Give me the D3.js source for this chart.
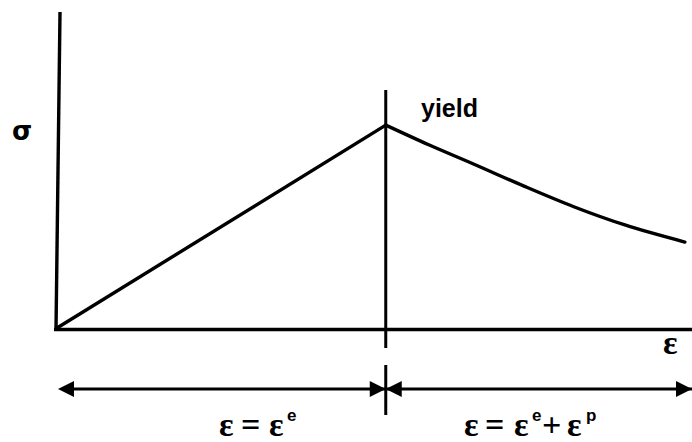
<!DOCTYPE html>
<html>
<head>
<meta charset="utf-8">
<script src="https://cdn.jsdelivr.net/npm/d3@7"></script>
<style>
  body { margin: 0; background: #fff; }
  text { fill: #000; }
</style>
</head>
<body>
<div id="chart"></div>
<script>
// strain (arbitrary units) and stress values
const strain = [0, 5.21, 5.9, 6.6, 7.4, 8.2, 9.0, 9.95]
const stress = [0, 6.42, 5.79, 5.19, 4.49, 3.83, 3.26, 2.72]
const yieldStrain = 5.21
const yieldLabel = "yield"
const axisLabels = {x: "ε", y: "σ"}

const W = 692, H = 442

const svg = d3.select("#chart")
    .append("svg")
    .attr("width", W)
    .attr("height", H)

const x = d3.scaleLinear().domain([0, 10]).range([57, 688])
const y = d3.scaleLinear().domain([0, 10]).range([328, 12])

// axes (the vertical one leans a little, like the hand drawing)
svg.append("line")
    .attr("x1", 60).attr("x2", 56)
    .attr("y1", y(10)).attr("y2", y(0) + 2)
    .attr("stroke", "#000").attr("stroke-width", 3.4)
svg.append("line")
    .attr("x1", x(0) - 3).attr("x2", W)
    .attr("y1", y(0) + 1.5).attr("y2", y(0) + 1.5)
    .attr("stroke", "#000").attr("stroke-width", 3.4)

// yield line
svg.append("line")
    .attr("x1", x(yieldStrain)).attr("x2", x(yieldStrain))
    .attr("y1", 90).attr("y2", 348)
    .attr("stroke", "#000").attr("stroke-width", 3)

// stress-strain curve: straight elastic part, then curved plastic part
const pts = strain.map((s, i) => [s, stress[i]])
const iy = strain.indexOf(yieldStrain)
svg.append("path")
    .attr("d", d3.line().x(d => x(d[0])).y(d => y(d[1]))(pts.slice(0, iy + 1)))
    .attr("fill", "none").attr("stroke", "#000").attr("stroke-width", 3.4)
svg.append("path")
    .attr("d", d3.line().curve(d3.curveMonotoneX).x(d => x(d[0])).y(d => y(d[1]))(pts.slice(iy)))
    .attr("fill", "none").attr("stroke", "#000").attr("stroke-width", 3.4)
    .attr("stroke-linecap", "round")

// labels
svg.append("text")
    .attr("x", 12).attr("y", 140)
    .style("font", "bold 26px 'DejaVu Sans'")
    .text(axisLabels.y)
svg.append("text")
    .attr("x", 421).attr("y", 117)
    .style("font", "bold 25px 'Liberation Sans'")
    .text(yieldLabel)
svg.append("text")
    .attr("x", 663).attr("y", 354)
    .style("font", "bold 34px 'Liberation Serif'")
    .text(axisLabels.x)

// double arrows below
const ay = 389
const head = (tip, dir) => {
    const len = 16, hw = 8
    return `M${tip},${ay}L${tip - dir * len},${ay - hw}L${tip - dir * len},${ay + hw}Z`
}
svg.append("line")
    .attr("x1", x(0) + 5).attr("x2", W)
    .attr("y1", ay).attr("y2", ay)
    .attr("stroke", "#000").attr("stroke-width", 3)
svg.append("line")
    .attr("x1", x(yieldStrain)).attr("x2", x(yieldStrain))
    .attr("y1", 365).attr("y2", 415)
    .attr("stroke", "#000").attr("stroke-width", 3)
const heads = [[58, -1], [x(yieldStrain), 1], [x(yieldStrain), -1], [692, 1]]
svg.selectAll("path.head")
    .data(heads)
    .join("path")
    .attr("class", "head")
    .attr("d", d => head(d[0], d[1]))
    .attr("fill", "#000")

// equations under the arrows
const eqFont = "bold 34px 'Liberation Serif'"
const supFont = "bold 17px 'Liberation Sans'"
const eqs = [
    [[219, "ε", 0], [241, "=", 0], [269, "ε", 0], [287, "e", 1]],
    [[464, "ε", 0], [485, "=", 0], [514, "ε", 0], [532, "e", 1], [542, "+", 0], [567, "ε", 0], [586, "p", 1]]
]
eqs.forEach(parts => {
    const t = svg.append("text").attr("y", 436).style("font", eqFont)
    parts.forEach(([px, s, sup]) => {
        t.append("tspan")
            .attr("x", px)
            .attr("y", sup ? 421 : 436)
            .style("font", sup ? supFont : eqFont)
            .text(s)
    })
})
</script>
</body>
</html>
